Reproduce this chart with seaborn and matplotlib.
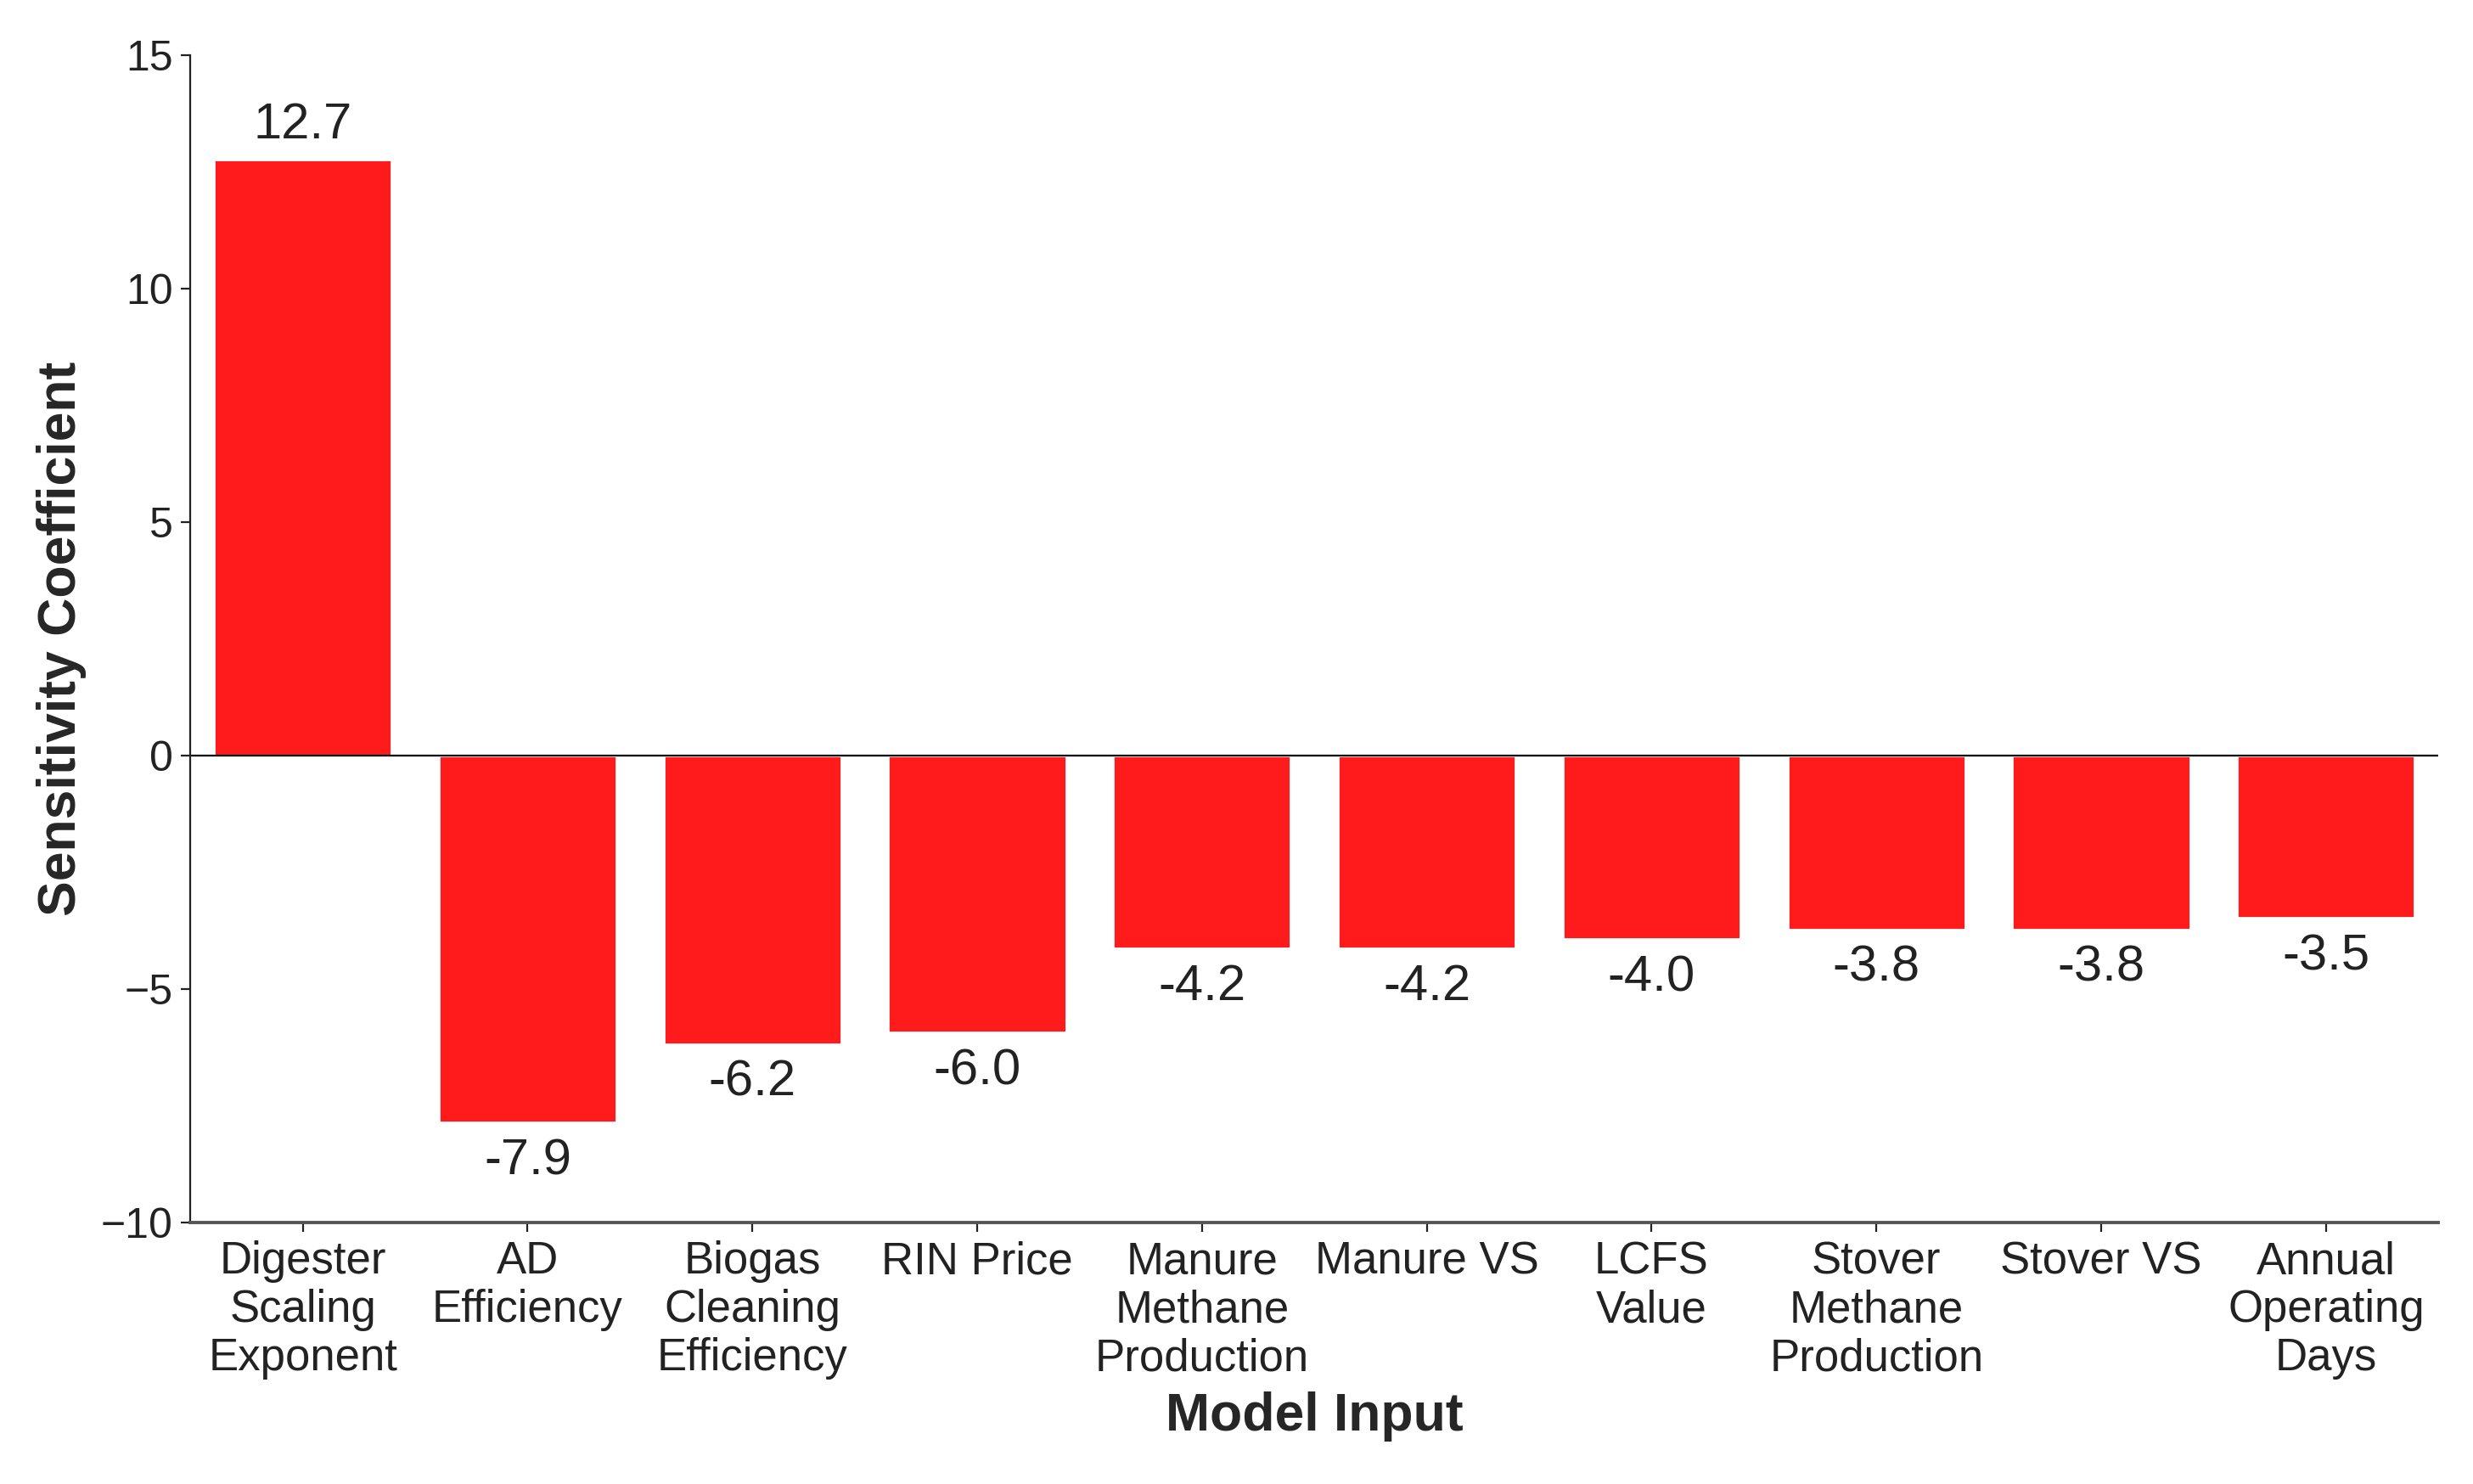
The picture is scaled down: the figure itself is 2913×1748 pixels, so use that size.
import matplotlib
matplotlib.use("Agg")
import matplotlib.pyplot as plt
import seaborn as sns
import pandas as pd

# data
inputs = [
    "Digester\nScaling\nExponent",
    "AD\nEfficiency",
    "Biogas\nCleaning\nEfficiency",
    "RIN Price",
    "Manure\nMethane\nProduction",
    "Manure VS",
    "LCFS\nValue",
    "Stover\nMethane\nProduction",
    "Stover VS",
    "Annual\nOperating\nDays",
]
coefficients = [12.75, -7.85, -6.17, -5.93, -4.12, -4.12, -3.93, -3.72, -3.72, -3.47]
value_labels = ["12.7", "-7.9", "-6.2", "-6.0", "-4.2", "-4.2", "-4.0", "-3.8", "-3.8", "-3.5"]

df = pd.DataFrame({"Model Input": inputs, "Sensitivity Coefficient": coefficients})

sns.set_style("ticks")
plt.rcParams["font.family"] = ["Liberation Sans", "DejaVu Sans"]
plt.rcParams["text.color"] = "#222222"

fig, ax = plt.subplots(figsize=(14.565, 8.74), dpi=200)
fig.subplots_adjust(left=0.077, right=0.986, top=0.963, bottom=0.176)

sns.barplot(data=df, x="Model Input", y="Sensitivity Coefficient",
            color="#ff1b1b", saturation=1, width=0.79, ax=ax)

ax.axhline(0, color="black", linewidth=0.8)

# value labels above / below each bar
for i, (v, lab) in enumerate(zip(coefficients, value_labels)):
    if v >= 0:
        ax.annotate(lab, (i, v), xytext=(0, 5), textcoords="offset points",
                    ha="center", va="bottom", fontsize=21.5, color="#222222")
    else:
        ax.annotate(lab, (i, v), xytext=(0, -6.5), textcoords="offset points",
                    ha="center", va="top", fontsize=21.5, color="#222222")

ax.set_ylim(-10, 15)
ax.set_xlim(-0.5, len(inputs) - 0.5)
ax.set_yticks([-10, -5, 0, 5, 10, 15])
ax.set_yticklabels(["\u221210", "\u22125", "0", "5", "10", "15"])

ax.tick_params(axis="both", labelsize=18, colors="#222222", length=4, width=0.8)
for t in ax.get_xticklabels():
    t.set_fontsize(19)
    t.set_linespacing(1.18)
ax.set_xlabel("Model Input", fontsize=22.5, fontweight="bold", labelpad=5)
ax.set_ylabel("Sensitivity Coefficient", fontsize=22.5, fontweight="bold", labelpad=6)

sns.despine(ax=ax)
ax.spines["left"].set_linewidth(0.8)
ax.spines["left"].set_color("#222222")
ax.spines["bottom"].set_linewidth(1.4)
ax.spines["bottom"].set_color("#555555")

fig.savefig("out.png", dpi=200)
